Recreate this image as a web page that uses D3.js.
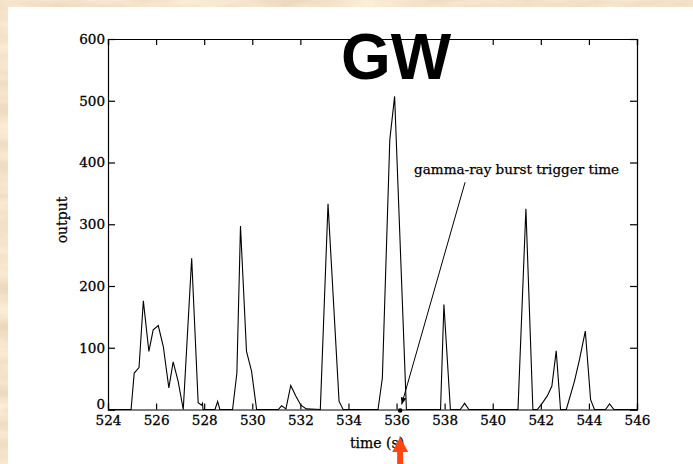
<!DOCTYPE html>
<html lang="en">
<head>
<meta charset="UTF-8">
<title>GW output</title>
<script src="https://cdnjs.cloudflare.com/ajax/libs/d3/7.8.5/d3.min.js"></script>
<style>
  body { margin: 0; background: #e8c894; }
  svg { display: block; }
  .tick text { font-family: "DejaVu Serif", serif; font-size: 13.5px; fill: #000; stroke: #000; stroke-width: 0.3; }
  .axis path, .axis line { stroke: #000; stroke-width: 1.2; }
  .lbl { font-family: "DejaVu Serif", serif; fill: #000; stroke: #000; stroke-width: 0.25; }
</style>
</head>
<body>
<svg id="chart"></svg>
<script>
// time (s) of each sample and detector output
var times = [524, 524.96, 525.09, 525.29, 525.47, 525.70, 525.88, 526.09, 526.30, 526.53,
             526.71, 526.92, 527.13, 527.48, 527.75, 527.89, 527.93, 527.95, 528.45, 528.56,
             528.65, 529.18, 529.36, 529.51, 529.76, 529.97, 530.18, 531.08, 531.22, 531.40,
             531.60, 531.81, 532.02, 532.25, 532.83, 533.15, 533.61, 533.78, 535.23, 535.41,
             535.72, 535.92, 536.41, 537.83, 537.97, 538.24, 538.65, 538.83, 539.01, 541.05,
             541.38, 541.67, 541.85, 542.02, 542.27, 542.46, 542.64, 542.82, 543.06, 543.40,
             543.61, 543.85, 544.07, 544.23, 544.69, 544.86, 545.04, 546];
var outputs = [0, 0, 59, 68, 176, 94, 129, 136, 102, 35,
               77, 45, 0, 245, 11, 7, 10, 0, 0, 13,
               0, 0, 59, 297, 94, 62, 0, 0, 6, 1,
               39, 22, 7, 1, 0, 333, 13, 0, 0, 51,
               437, 507, 0, 0, 170, 0, 0, 10, 0, 0,
               325, 0, 0, 8, 22, 38, 95, 0, 0, 46,
               81, 127, 16, 0, 0, 9, 0, 0];
var xTicks = [524, 526, 528, 530, 532, 534, 536, 538, 540, 542, 544, 546];
var yTicks = [0, 100, 200, 300, 400, 500, 600];
var triggerTime = 536.15;

var width = 693, height = 464;
var svg = d3.select("#chart").attr("width", width).attr("height", height);

// parchment background
var defs = svg.append("defs");
var f = defs.append("filter").attr("id", "paper")
    .attr("filterUnits", "userSpaceOnUse")
    .attr("x", 0).attr("y", 0).attr("width", width).attr("height", height);
f.append("feTurbulence").attr("type", "fractalNoise")
    .attr("baseFrequency", "0.012 0.05").attr("numOctaves", 4).attr("seed", 3);
f.append("feColorMatrix").attr("type", "matrix")
    .attr("values", "0.25 0 0 0 0.78  0.3 0 0 0 0.62  0.35 0 0 0 0.42  0 0 0 0 1");
svg.append("rect").attr("width", width).attr("height", height).attr("filter", "url(#paper)");
svg.append("rect").attr("x", 8).attr("y", 7).attr("width", width - 8).attr("height", height - 7).attr("fill", "#fff");

var x = d3.scaleLinear().domain([524, 546]).range([108, 637]);
var y = d3.scaleLinear().domain([0, 600]).range([409.5, 39]);

// axes, ticks pointing inwards
svg.append("g").attr("class", "axis").attr("transform", "translate(0," + y(0) + ")")
    .call(d3.axisBottom(x).tickValues(xTicks).tickSize(-6).tickPadding(6).tickFormat(d3.format("d")));
svg.append("g").attr("class", "axis").attr("transform", "translate(0," + y(600) + ")")
    .call(d3.axisTop(x).tickValues(xTicks).tickSize(-6).tickFormat(""));
var yAxis = svg.append("g").attr("class", "axis").attr("transform", "translate(" + x(524) + ",0)")
    .call(d3.axisLeft(y).tickValues(yTicks).tickSize(-7).tickPadding(3).tickFormat(d3.format("d")));
// the zero label sits a little above its tick, clear of the x labels
yAxis.selectAll(".tick text").filter(function (d) { return d === 0; }).attr("dy", "-0.05em");
svg.append("g").attr("class", "axis").attr("transform", "translate(" + x(546) + ",0)")
    .call(d3.axisRight(y).tickValues(yTicks).tickSize(-7).tickFormat(""));

// output trace
var line = d3.line()
    .x(function (d, i) { return x(times[i]); })
    .y(function (d) { return y(d); });
svg.append("path").datum(outputs)
    .attr("d", line)
    .attr("fill", "none").attr("stroke", "#000").attr("stroke-width", 1.1)
    .attr("stroke-linejoin", "miter");

// axis titles
svg.append("text").attr("class", "lbl").attr("x", 377).attr("y", 448).attr("text-anchor", "middle")
    .style("font-size", "14px").text("time (s)");
svg.append("text").attr("class", "lbl").attr("transform", "translate(67,220)rotate(-90)").attr("text-anchor", "middle")
    .style("font-size", "14px").text("output");

// trigger annotation
defs.append("marker").attr("id", "head").attr("viewBox", "0 0 10 10")
    .attr("refX", 10).attr("refY", 5).attr("markerWidth", 7).attr("markerHeight", 7)
    .attr("orient", "auto").append("path").attr("d", "M0,1L10,5L0,9z").attr("fill", "#000");
svg.append("line")
    .attr("x1", x(538.85)).attr("y1", y(368))
    .attr("x2", x(triggerTime) + 1.5).attr("y2", y(0) - 5)
    .attr("stroke", "#000").attr("stroke-width", 1).attr("marker-end", "url(#head)");
svg.append("circle").attr("cx", x(triggerTime)).attr("cy", y(0) + 1).attr("r", 2.3).attr("fill", "#000");
svg.append("text").attr("class", "lbl").attr("x", x(536.73)).attr("y", y(382))
    .attr("textLength", 205).attr("lengthAdjust", "spacingAndGlyphs")
    .style("font-size", "13px")
    .text("gamma-ray burst trigger time");

// GW label
svg.append("text").attr("x", 341).attr("y", 79)
    .style("font-family", "Liberation Sans, Arial, sans-serif").style("font-weight", "bold")
    .style("font-size", "64px").text("GW");

// red arrow under the trigger time
var ax = x(triggerTime);
svg.append("path")
    .attr("d", "M" + ax + ",437L" + (ax + 8) + ",452L" + (ax + 3) + ",452L" + (ax + 3) + ",464L" +
               (ax - 3) + ",464L" + (ax - 3) + ",452L" + (ax - 8) + ",452Z")
    .attr("fill", "#ff4512");
</script>
</body>
</html>
